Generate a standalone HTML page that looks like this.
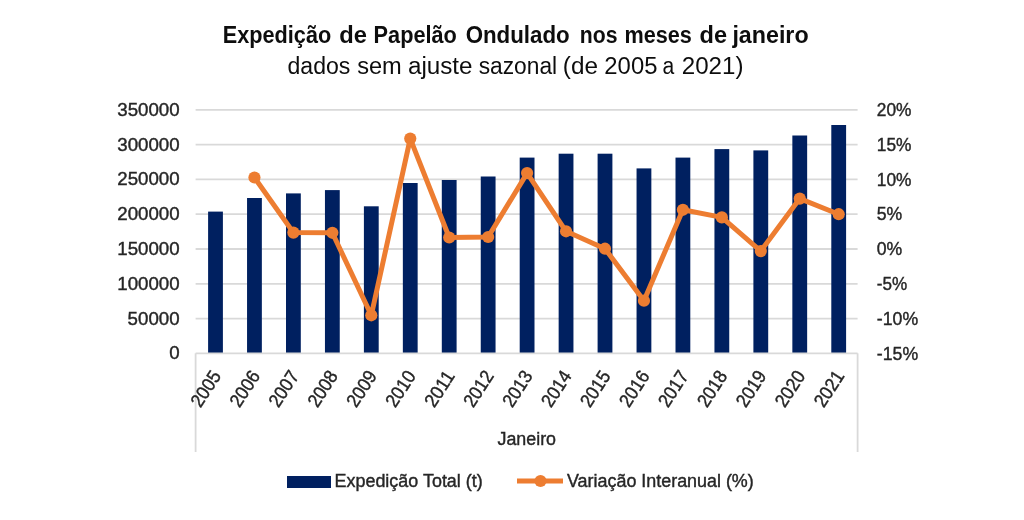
<!DOCTYPE html><html><head><meta charset="utf-8"><style>html,body{margin:0;padding:0;background:#fff;width:1024px;height:520px;overflow:hidden}svg{display:block;font-family:"Liberation Sans",sans-serif;will-change:transform}</style></head><body>
<svg width="1024" height="520" viewBox="0 0 1024 520">
<rect width="1024" height="520" fill="#fff"/>
<text x="222.82" y="42.70" font-size="23" font-weight="bold" fill="#0d0d0d" textLength="108.37" lengthAdjust="spacingAndGlyphs">Expedição</text>
<text x="339.27" y="42.70" font-size="23" font-weight="bold" fill="#0d0d0d" textLength="27.70" lengthAdjust="spacingAndGlyphs">de</text>
<text x="373.61" y="42.70" font-size="23" font-weight="bold" fill="#0d0d0d" textLength="83.29" lengthAdjust="spacingAndGlyphs">Papelão</text>
<text x="465.63" y="42.70" font-size="23" font-weight="bold" fill="#0d0d0d" textLength="104.09" lengthAdjust="spacingAndGlyphs">Ondulado</text>
<text x="579.76" y="42.70" font-size="23" font-weight="bold" fill="#0d0d0d" textLength="37.66" lengthAdjust="spacingAndGlyphs">nos</text>
<text x="624.52" y="42.70" font-size="23" font-weight="bold" fill="#0d0d0d" textLength="67.37" lengthAdjust="spacingAndGlyphs">meses</text>
<text x="699.58" y="42.70" font-size="23" font-weight="bold" fill="#0d0d0d" textLength="27.49" lengthAdjust="spacingAndGlyphs">de</text>
<text x="732.40" y="42.70" font-size="23" font-weight="bold" fill="#0d0d0d" textLength="76.23" lengthAdjust="spacingAndGlyphs">janeiro</text>
<text x="287.50" y="73.60" font-size="23" fill="#0d0d0d" textLength="62.88" lengthAdjust="spacingAndGlyphs">dados</text>
<text x="357.17" y="73.60" font-size="23" fill="#0d0d0d" textLength="44.62" lengthAdjust="spacingAndGlyphs">sem</text>
<text x="407.95" y="73.60" font-size="23" fill="#0d0d0d" textLength="64.60" lengthAdjust="spacingAndGlyphs">ajuste</text>
<text x="478.71" y="73.60" font-size="23" fill="#0d0d0d" textLength="78.46" lengthAdjust="spacingAndGlyphs">sazonal</text>
<text x="562.84" y="73.60" font-size="23" fill="#0d0d0d" textLength="35.18" lengthAdjust="spacingAndGlyphs">(de</text>
<text x="604.36" y="73.60" font-size="23" fill="#0d0d0d" textLength="53.05" lengthAdjust="spacingAndGlyphs">2005</text>
<text x="662.38" y="73.60" font-size="23" fill="#0d0d0d" textLength="11.73" lengthAdjust="spacingAndGlyphs">a</text>
<text x="681.75" y="73.60" font-size="23" fill="#0d0d0d" textLength="61.72" lengthAdjust="spacingAndGlyphs">2021)</text>
<line x1="195.6" x2="857.6" y1="109.80" y2="109.80" stroke="#D9D9D9" stroke-width="1.8"/>
<line x1="195.6" x2="857.6" y1="144.60" y2="144.60" stroke="#D9D9D9" stroke-width="1.8"/>
<line x1="195.6" x2="857.6" y1="179.40" y2="179.40" stroke="#D9D9D9" stroke-width="1.8"/>
<line x1="195.6" x2="857.6" y1="214.20" y2="214.20" stroke="#D9D9D9" stroke-width="1.8"/>
<line x1="195.6" x2="857.6" y1="249.00" y2="249.00" stroke="#D9D9D9" stroke-width="1.8"/>
<line x1="195.6" x2="857.6" y1="283.80" y2="283.80" stroke="#D9D9D9" stroke-width="1.8"/>
<line x1="195.6" x2="857.6" y1="318.60" y2="318.60" stroke="#D9D9D9" stroke-width="1.8"/>
<rect x="208.10" y="211.60" width="14.8" height="141.70" fill="#002060"/>
<rect x="247.05" y="198.00" width="14.8" height="155.30" fill="#002060"/>
<rect x="286.00" y="193.40" width="14.8" height="159.90" fill="#002060"/>
<rect x="324.95" y="190.10" width="14.8" height="163.20" fill="#002060"/>
<rect x="363.90" y="206.30" width="14.8" height="147.00" fill="#002060"/>
<rect x="402.85" y="183.00" width="14.8" height="170.30" fill="#002060"/>
<rect x="441.80" y="180.00" width="14.8" height="173.30" fill="#002060"/>
<rect x="480.75" y="176.50" width="14.8" height="176.80" fill="#002060"/>
<rect x="519.70" y="157.60" width="14.8" height="195.70" fill="#002060"/>
<rect x="558.65" y="153.70" width="14.8" height="199.60" fill="#002060"/>
<rect x="597.60" y="153.70" width="14.8" height="199.60" fill="#002060"/>
<rect x="636.55" y="168.40" width="14.8" height="184.90" fill="#002060"/>
<rect x="675.50" y="157.60" width="14.8" height="195.70" fill="#002060"/>
<rect x="714.45" y="149.10" width="14.8" height="204.20" fill="#002060"/>
<rect x="753.40" y="150.40" width="14.8" height="202.90" fill="#002060"/>
<rect x="792.35" y="135.50" width="14.8" height="217.80" fill="#002060"/>
<rect x="831.30" y="125.00" width="14.8" height="228.30" fill="#002060"/>
<line x1="195.6" x2="857.6" y1="353.3" y2="353.3" stroke="#D9D9D9" stroke-width="1.8"/>
<line x1="195.6" x2="195.6" y1="353.3" y2="452" stroke="#D9D9D9" stroke-width="1.8"/>
<line x1="857.6" x2="857.6" y1="353.3" y2="452" stroke="#D9D9D9" stroke-width="1.8"/>
<polyline points="254.45,177.50 293.40,232.60 332.35,232.80 371.30,315.30 410.25,138.60 449.20,237.50 488.15,237.00 527.10,173.10 566.05,231.30 605.00,248.70 643.95,300.70 682.90,209.80 721.85,217.40 760.80,251.10 799.75,198.60 838.70,214.20" fill="none" stroke="#ED7D31" stroke-width="5" stroke-linejoin="round" stroke-linecap="round"/>
<circle cx="254.45" cy="177.50" r="6.1" fill="#ED7D31"/>
<circle cx="293.40" cy="232.60" r="6.1" fill="#ED7D31"/>
<circle cx="332.35" cy="232.80" r="6.1" fill="#ED7D31"/>
<circle cx="371.30" cy="315.30" r="6.1" fill="#ED7D31"/>
<circle cx="410.25" cy="138.60" r="6.1" fill="#ED7D31"/>
<circle cx="449.20" cy="237.50" r="6.1" fill="#ED7D31"/>
<circle cx="488.15" cy="237.00" r="6.1" fill="#ED7D31"/>
<circle cx="527.10" cy="173.10" r="6.1" fill="#ED7D31"/>
<circle cx="566.05" cy="231.30" r="6.1" fill="#ED7D31"/>
<circle cx="605.00" cy="248.70" r="6.1" fill="#ED7D31"/>
<circle cx="643.95" cy="300.70" r="6.1" fill="#ED7D31"/>
<circle cx="682.90" cy="209.80" r="6.1" fill="#ED7D31"/>
<circle cx="721.85" cy="217.40" r="6.1" fill="#ED7D31"/>
<circle cx="760.80" cy="251.10" r="6.1" fill="#ED7D31"/>
<circle cx="799.75" cy="198.60" r="6.1" fill="#ED7D31"/>
<circle cx="838.70" cy="214.20" r="6.1" fill="#ED7D31"/>
<text x="179.62" y="115.70" font-size="18" fill="#262626" stroke="#262626" stroke-width="0.4" text-anchor="end" textLength="62.36" lengthAdjust="spacingAndGlyphs">350000</text>
<text x="179.62" y="150.50" font-size="18" fill="#262626" stroke="#262626" stroke-width="0.4" text-anchor="end" textLength="62.36" lengthAdjust="spacingAndGlyphs">300000</text>
<text x="179.62" y="185.30" font-size="18" fill="#262626" stroke="#262626" stroke-width="0.4" text-anchor="end" textLength="62.36" lengthAdjust="spacingAndGlyphs">250000</text>
<text x="179.62" y="220.10" font-size="18" fill="#262626" stroke="#262626" stroke-width="0.4" text-anchor="end" textLength="62.36" lengthAdjust="spacingAndGlyphs">200000</text>
<text x="179.62" y="254.90" font-size="18" fill="#262626" stroke="#262626" stroke-width="0.4" text-anchor="end" textLength="62.36" lengthAdjust="spacingAndGlyphs">150000</text>
<text x="179.62" y="289.70" font-size="18" fill="#262626" stroke="#262626" stroke-width="0.4" text-anchor="end" textLength="62.36" lengthAdjust="spacingAndGlyphs">100000</text>
<text x="179.60" y="324.50" font-size="18" fill="#262626" stroke="#262626" stroke-width="0.4" text-anchor="end" textLength="51.96" lengthAdjust="spacingAndGlyphs">50000</text>
<text x="179.55" y="359.30" font-size="18" fill="#262626" stroke="#262626" stroke-width="0.4" text-anchor="end" textLength="10.40" lengthAdjust="spacingAndGlyphs">0</text>
<text x="876.84" y="115.90" font-size="18" fill="#262626" stroke="#262626" stroke-width="0.4" textLength="34.65" lengthAdjust="spacingAndGlyphs">20%</text>
<text x="876.84" y="150.70" font-size="18" fill="#262626" stroke="#262626" stroke-width="0.4" textLength="34.65" lengthAdjust="spacingAndGlyphs">15%</text>
<text x="876.84" y="185.50" font-size="18" fill="#262626" stroke="#262626" stroke-width="0.4" textLength="34.65" lengthAdjust="spacingAndGlyphs">10%</text>
<text x="876.82" y="220.30" font-size="18" fill="#262626" stroke="#262626" stroke-width="0.4" textLength="25.47" lengthAdjust="spacingAndGlyphs">5%</text>
<text x="876.82" y="255.10" font-size="18" fill="#262626" stroke="#262626" stroke-width="0.4" textLength="25.47" lengthAdjust="spacingAndGlyphs">0%</text>
<text x="876.85" y="289.90" font-size="18" fill="#262626" stroke="#262626" stroke-width="0.4" textLength="30.41" lengthAdjust="spacingAndGlyphs">-5%</text>
<text x="876.82" y="324.70" font-size="18" fill="#262626" stroke="#262626" stroke-width="0.4" textLength="41.30" lengthAdjust="spacingAndGlyphs">-10%</text>
<text x="876.82" y="359.50" font-size="18" fill="#262626" stroke="#262626" stroke-width="0.4" textLength="41.30" lengthAdjust="spacingAndGlyphs">-15%</text>
<text transform="translate(221.80,375.9) rotate(-57)" font-size="19" fill="#262626" stroke="#262626" stroke-width="0.4" text-anchor="end" textLength="39" lengthAdjust="spacingAndGlyphs">2005</text>
<text transform="translate(260.75,375.9) rotate(-57)" font-size="19" fill="#262626" stroke="#262626" stroke-width="0.4" text-anchor="end" textLength="39" lengthAdjust="spacingAndGlyphs">2006</text>
<text transform="translate(299.70,375.9) rotate(-57)" font-size="19" fill="#262626" stroke="#262626" stroke-width="0.4" text-anchor="end" textLength="39" lengthAdjust="spacingAndGlyphs">2007</text>
<text transform="translate(338.65,375.9) rotate(-57)" font-size="19" fill="#262626" stroke="#262626" stroke-width="0.4" text-anchor="end" textLength="39" lengthAdjust="spacingAndGlyphs">2008</text>
<text transform="translate(377.60,375.9) rotate(-57)" font-size="19" fill="#262626" stroke="#262626" stroke-width="0.4" text-anchor="end" textLength="39" lengthAdjust="spacingAndGlyphs">2009</text>
<text transform="translate(416.55,375.9) rotate(-57)" font-size="19" fill="#262626" stroke="#262626" stroke-width="0.4" text-anchor="end" textLength="39" lengthAdjust="spacingAndGlyphs">2010</text>
<text transform="translate(455.50,375.9) rotate(-57)" font-size="19" fill="#262626" stroke="#262626" stroke-width="0.4" text-anchor="end" textLength="39" lengthAdjust="spacingAndGlyphs">2011</text>
<text transform="translate(494.45,375.9) rotate(-57)" font-size="19" fill="#262626" stroke="#262626" stroke-width="0.4" text-anchor="end" textLength="39" lengthAdjust="spacingAndGlyphs">2012</text>
<text transform="translate(533.40,375.9) rotate(-57)" font-size="19" fill="#262626" stroke="#262626" stroke-width="0.4" text-anchor="end" textLength="39" lengthAdjust="spacingAndGlyphs">2013</text>
<text transform="translate(572.35,375.9) rotate(-57)" font-size="19" fill="#262626" stroke="#262626" stroke-width="0.4" text-anchor="end" textLength="39" lengthAdjust="spacingAndGlyphs">2014</text>
<text transform="translate(611.30,375.9) rotate(-57)" font-size="19" fill="#262626" stroke="#262626" stroke-width="0.4" text-anchor="end" textLength="39" lengthAdjust="spacingAndGlyphs">2015</text>
<text transform="translate(650.25,375.9) rotate(-57)" font-size="19" fill="#262626" stroke="#262626" stroke-width="0.4" text-anchor="end" textLength="39" lengthAdjust="spacingAndGlyphs">2016</text>
<text transform="translate(689.20,375.9) rotate(-57)" font-size="19" fill="#262626" stroke="#262626" stroke-width="0.4" text-anchor="end" textLength="39" lengthAdjust="spacingAndGlyphs">2017</text>
<text transform="translate(728.15,375.9) rotate(-57)" font-size="19" fill="#262626" stroke="#262626" stroke-width="0.4" text-anchor="end" textLength="39" lengthAdjust="spacingAndGlyphs">2018</text>
<text transform="translate(767.10,375.9) rotate(-57)" font-size="19" fill="#262626" stroke="#262626" stroke-width="0.4" text-anchor="end" textLength="39" lengthAdjust="spacingAndGlyphs">2019</text>
<text transform="translate(806.05,375.9) rotate(-57)" font-size="19" fill="#262626" stroke="#262626" stroke-width="0.4" text-anchor="end" textLength="39" lengthAdjust="spacingAndGlyphs">2020</text>
<text transform="translate(845.00,375.9) rotate(-57)" font-size="19" fill="#262626" stroke="#262626" stroke-width="0.4" text-anchor="end" textLength="39" lengthAdjust="spacingAndGlyphs">2021</text>
<text x="497.50" y="445.00" font-size="18" fill="#262626" stroke="#262626" stroke-width="0.4" textLength="58.54" lengthAdjust="spacingAndGlyphs">Janeiro</text>
<rect x="287" y="476" width="44" height="12" fill="#002060"/>
<text x="334.50" y="487.40" font-size="18" fill="#262626" stroke="#262626" stroke-width="0.4" textLength="148.24" lengthAdjust="spacingAndGlyphs">Expedição Total (t)</text>
<line x1="517" x2="563" y1="481" y2="481" stroke="#ED7D31" stroke-width="5"/>
<circle cx="540.5" cy="481" r="6.1" fill="#ED7D31"/>
<text x="567.00" y="487.40" font-size="18" fill="#262626" stroke="#262626" stroke-width="0.4" textLength="186.76" lengthAdjust="spacingAndGlyphs">Variação Interanual (%)</text>
</svg></body></html>
